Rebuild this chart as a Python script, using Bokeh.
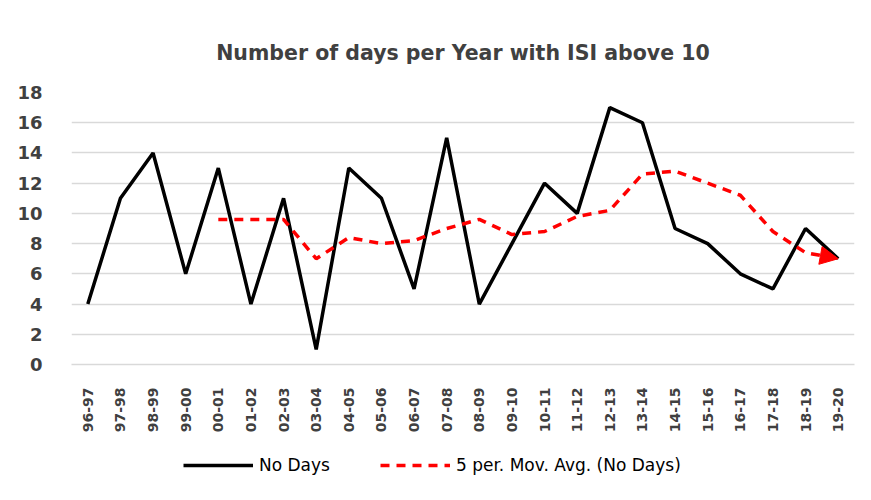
from bokeh.plotting import figure
from bokeh.models import Range1d, FixedTicker, Legend, LegendItem, Arrow, NormalHead, Title
from bokeh.layouts import column
from bokeh.embed import file_html
from bokeh.resources import INLINE
import math

seasons = ["96-97", "97-98", "98-99", "99-00", "00-01", "01-02", "02-03", "03-04",
           "04-05", "05-06", "06-07", "07-08", "08-09", "09-10", "10-11", "11-12",
           "12-13", "13-14", "14-15", "15-16", "16-17", "17-18", "18-19", "19-20"]
no_days = [4, 11, 14, 6, 13, 4, 11, 1, 13, 11, 5, 15, 4, 8, 12, 10, 17, 16, 9, 8, 6, 5, 9, 7]
mov_avg_seasons = seasons[4:]
mov_avg = [9.6, 9.6, 9.6, 7.0, 8.4, 8.0, 8.2, 9.0, 9.6, 8.6, 8.8, 9.8, 10.2, 12.6,
           12.8, 12.0, 11.2, 8.8, 7.4, 7.0]
y_ticks = [0, 2, 4, 6, 8, 10, 12, 14, 16, 18]

xpos = {s: i + 0.5 for i, s in enumerate(seasons)}
x_days = [xpos[s] for s in seasons]
x_ma = [xpos[s] for s in mov_avg_seasons]

p = figure(frame_width=783, frame_height=272, output_backend="svg", toolbar_location=None,
           x_range=Range1d(0, len(seasons)), y_range=Range1d(0, 18),
           min_border_left=71, min_border_right=1, min_border_top=92, min_border_bottom=76)
p.outline_line_color = None
p.background_fill_color = "white"
p.border_fill_color = "white"

title = Title(text="Number of days per Year with ISI above 10", align="center",
              text_font="DejaVu Sans", text_font_size="20.5px", text_font_style="bold",
              text_color="#404040", standoff=55)
p.add_layout(title, "above")

GRID = "#d9d9d9"
p.xgrid.grid_line_color = None
p.ygrid.grid_line_color = GRID
p.ygrid.grid_line_width = 1.5
p.yaxis.ticker = FixedTicker(ticks=y_ticks)
p.xaxis.ticker = FixedTicker(ticks=x_days)
p.xaxis.major_label_overrides = {xpos[s]: s for s in seasons}
p.xaxis.major_label_orientation = math.pi / 2
for ax in (p.xaxis, p.yaxis):
    ax.major_tick_line_color = None
    ax.minor_tick_line_color = None
    ax.major_label_text_font = "DejaVu Sans"
    ax.major_label_text_font_style = "bold"
    ax.major_label_text_color = "#404040"
p.yaxis.axis_line_color = None
p.xaxis.axis_line_color = GRID
p.xaxis.axis_line_width = 1.5
p.yaxis.major_label_text_font_size = "18px"
p.xaxis.major_label_text_font_size = "14px"
p.yaxis.major_label_standoff = 23
p.xaxis.major_label_standoff = 17

p.line(x_days, no_days, line_color="black", line_width=3.5)
p.line(x_ma, mov_avg, line_color="#ff0000", line_width=3.5, line_dash="9 7")
p.add_layout(Arrow(end=NormalHead(size=18, fill_color="#ff0000", line_color="#ff0000"),
                   x_start=x_ma[-2], y_start=mov_avg[-2], x_end=x_ma[-1], y_end=mov_avg[-1],
                   line_alpha=0))

# legend strip below the chart (its lines use the same data, kept out of view)
lg = figure(width=855, height=50, output_backend="svg", toolbar_location=None,
            x_range=Range1d(0, len(seasons)), y_range=Range1d(100, 101),
            x_axis_type=None, y_axis_type=None, min_border=0)
lg.outline_line_color = None
lg.xgrid.grid_line_color = None
lg.ygrid.grid_line_color = None
lr1 = lg.line(x_days, no_days, line_color="black", line_width=3.5)
lr2 = lg.line(x_ma, mov_avg, line_color="#ff0000", line_width=3.5, line_dash="9 7")

legend = Legend(items=[LegendItem(label="No Days", renderers=[lr1]),
                       LegendItem(label="5 per. Mov. Avg. (No Days)", renderers=[lr2])],
                orientation="horizontal", location=(112, 15),
                label_text_font="DejaVu Sans", label_text_font_size="17px",
                label_text_color="#000000", glyph_width=70, glyph_height=20,
                label_standoff=6, spacing=50,
                border_line_color=None, background_fill_alpha=0, margin=0, padding=0)
lg.add_layout(legend, "center")

layout = column(p, lg, spacing=0)
open("out.html", "w").write(file_html(layout, INLINE))
